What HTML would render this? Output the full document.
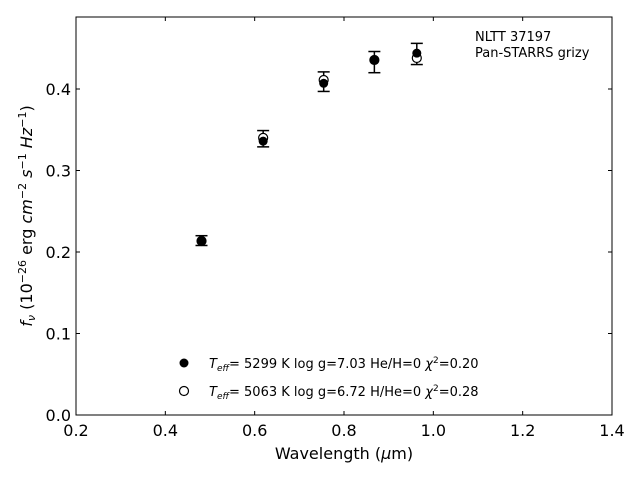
<!DOCTYPE html>
<html><head><meta charset="utf-8"><style>
body{margin:0;background:#fff;font-family:"Liberation Sans","DejaVu Sans",sans-serif}
svg text{font-family:"DejaVu Sans","Liberation Sans",sans-serif}
</style></head><body>
<svg id="chart" width="640" height="480" viewBox="0 0 640 480">
<rect x="0" y="0" width="640" height="480" fill="#fff"/>
<g id="marks"></g>
<rect x="76" y="17" width="536" height="398" fill="none" stroke="#000" stroke-width="1"/>
<g id="axes"></g>
<text x="344" y="459" font-size="16" text-anchor="middle">Wavelength (<tspan font-style="italic">μ</tspan>m)</text>
<text transform="translate(32,216) rotate(-90)" font-size="16" text-anchor="middle"><tspan font-style="italic">f<tspan font-size="11" dy="3">ν</tspan></tspan><tspan dy="-3"> (10</tspan><tspan font-size="11" dy="-6">−26</tspan><tspan dy="6"> erg </tspan><tspan font-style="italic">cm</tspan><tspan font-size="11" dy="-6">−2</tspan><tspan dy="6" font-style="italic"> s</tspan><tspan font-size="11" dy="-6">−1</tspan><tspan dy="6" font-style="italic"> Hz</tspan><tspan font-size="11" dy="-6">−1</tspan><tspan dy="6">)</tspan></text>
<text x="475" y="41" font-size="13">NLTT 37197</text>
<text x="475" y="57" font-size="13">Pan-STARRS grizy</text>
<g>
<circle cx="184" cy="363" r="4.5" fill="#000"/>
<text x="209" y="368" font-size="13"><tspan font-style="italic">T<tspan font-size="9" dy="3">eff</tspan></tspan><tspan dy="-3">=  5299 K  log g=7.03  He/H=0  </tspan><tspan font-style="italic">χ</tspan><tspan font-size="9" dy="-5">2</tspan><tspan dy="5">=0.20</tspan></text>
<circle cx="184" cy="391" r="4.5" fill="#fff" stroke="#000" stroke-width="1.2"/>
<text x="209" y="396" font-size="13"><tspan font-style="italic">T<tspan font-size="9" dy="3">eff</tspan></tspan><tspan dy="-3">=  5063 K  log g=6.72  H/He=0  </tspan><tspan font-style="italic">χ</tspan><tspan font-size="9" dy="-5">2</tspan><tspan dy="5">=0.28</tspan></text>
</g>
</svg>
<script>
const wavelengths=[0.481,0.619,0.7545,0.868,0.963];
const observed=[0.214,0.339,0.409,0.433,0.443];
const observedErr=[0.006,0.010,0.012,0.013,0.013];
const modelFilled=[0.2135,0.336,0.407,0.4356,0.444];
const modelOpen=[0.2135,0.340,0.411,0.4356,0.438];
const xTicks=[0.2,0.4,0.6,0.8,1.0,1.2,1.4];
const xTickLabels=["0.2","0.4","0.6","0.8","1.0","1.2","1.4"];
const yTicks=[0,0.1,0.2,0.3,0.4];
const yTickLabels=["0.0","0.1","0.2","0.3","0.4"];
const NS="http://www.w3.org/2000/svg";
const X0=76,X1=612,Y0=415,Y1=17;
function sx(v){return X0+(v-0.2)/1.2*(X1-X0);}
function sy(v){return Y0-v*815;}
function mk(t,a,p){const e=document.createElementNS(NS,t);for(const k in a)e.setAttribute(k,a[k]);p.appendChild(e);return e;}
const marks=document.getElementById('marks'),axes=document.getElementById('axes');
wavelengths.forEach((w,i)=>{
  const x=sx(w),yt=sy(observed[i]+observedErr[i]),yb=sy(observed[i]-observedErr[i]);
  const g=mk('g',{},marks);
  
  
  mk('line',{x1:x,x2:x,y1:yt,y2:yb,stroke:'#000','stroke-width':1.5},g);
  mk('line',{x1:x-6,x2:x+6,y1:yt,y2:yt,stroke:'#000','stroke-width':1.5},g);
  mk('line',{x1:x-6,x2:x+6,y1:yb,y2:yb,stroke:'#000','stroke-width':1.5},g);
  const o=mk('circle',{cx:x,cy:sy(modelOpen[i]),r:4.5,fill:'#fff',stroke:'#000','stroke-width':1.2},marks);
  
  
  const f=mk('circle',{cx:x,cy:sy(modelFilled[i]),r:4.5,fill:'#000'},marks);
  
  
});
xTicks.forEach((v,i)=>{
  const x=sx(v);
  mk('line',{x1:x,x2:x,y1:Y0,y2:Y0-4,stroke:'#000'},axes);
  mk('line',{x1:x,x2:x,y1:Y1,y2:Y1+4,stroke:'#000'},axes);
  const t=mk('text',{x:x,y:Y0+21,'font-size':16,'text-anchor':'middle'},axes);
  
  
  t.textContent=xTickLabels[i];
});
yTicks.forEach((v,i)=>{
  const y=sy(v);
  mk('line',{x1:X0,x2:X0+4,y1:y,y2:y,stroke:'#000'},axes);
  mk('line',{x1:X1,x2:X1-4,y1:y,y2:y,stroke:'#000'},axes);
  const t=mk('text',{x:X0-5,y:y+6,'font-size':16,'text-anchor':'end'},axes);
  
  
  t.textContent=yTickLabels[i];
});
</script>
</body></html>
